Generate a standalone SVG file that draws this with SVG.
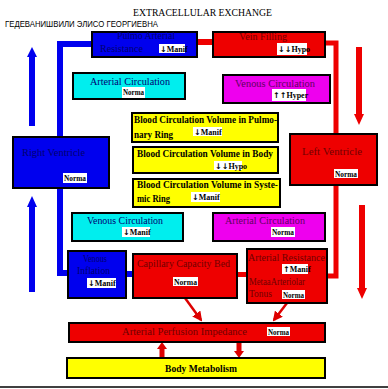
<svg xmlns="http://www.w3.org/2000/svg" width="388" height="389" viewBox="0 0 388 389">
<style>
.box{stroke:#000;stroke-width:2}
.blue{fill:#0000ee}
.red{fill:#ee0000}
.cyan{fill:#00eeee}
.mag{fill:#ee00ee}
.yel{fill:#ffff00}
.t{font-family:"Liberation Serif",serif;font-size:10.5px}
.tb{fill:#000070}
.tr{fill:#700000}
.tm{fill:#600060}
.tk{fill:#000;font-weight:bold}
.lbl{fill:#fff}
.lt{font-family:"Liberation Serif",serif;font-size:8px;font-weight:bold;fill:#000}
.ar{font-family:"DejaVu Sans",sans-serif;font-weight:bold}
.bl{stroke:#0000ee;fill:none}
.rl{stroke:#ee0000;fill:none}
</style>
<defs>
<marker id="ah" viewBox="0 0 10 10" refX="8" refY="5" markerWidth="4" markerHeight="4" orient="auto"><path d="M0,0 L10,5 L0,10 z" fill="#dd0000"/></marker>
</defs>
<rect width="388" height="389" fill="#fff"/>
<text x="133" y="16" font-family="Liberation Serif,serif" font-size="10.5" textLength="139" lengthAdjust="spacingAndGlyphs" fill="#000">EXTRACELLULAR EXCHANGE</text>
<text x="5" y="27" font-family="Liberation Sans,sans-serif" font-size="8.5" textLength="153" lengthAdjust="spacingAndGlyphs" fill="#000">ГЕДЕВАНИШВИЛИ ЭЛИСО ГЕОРГИЕВНА</text>

<g id="connectors">
<path class="bl" stroke-width="6" d="M93 44 H60 V273 H69"/>
<rect x="126" y="271" width="8" height="6" fill="#0000ee"/>
<path class="rl" stroke-width="6" d="M196 42 H214"/>
<path class="rl" stroke-width="5" d="M325 43 H336 V276 H327"/>
<rect x="237" y="272" width="11" height="5" fill="#ee0000"/>
<rect x="29" y="54" width="6" height="72" fill="#0000ee"/>
<path d="M27 57 L32 47 L37 57 z" fill="#0000ee"/>
<rect x="29" y="204" width="6" height="88" fill="#0000ee"/>
<path d="M27 207 L32 196 L37 207 z" fill="#0000ee"/>
<rect x="356" y="47" width="6" height="70" fill="#ee0000"/>
<path d="M354 114 L359 125 L364 114 z" fill="#ee0000"/>
<rect x="359" y="205" width="6" height="86" fill="#ee0000"/>
<path d="M357 288 L362 299 L367 288 z" fill="#ee0000"/>
<line x1="185" y1="298" x2="201" y2="320" stroke="#dd0000" stroke-width="2.5" marker-end="url(#ah)"/>
<line x1="287" y1="303" x2="274" y2="320" stroke="#dd0000" stroke-width="2.5" marker-end="url(#ah)"/>
<rect x="159.5" y="347" width="5" height="11" fill="#dd0000"/>
<path d="M157 349 L162 342 L167 349 z" fill="#dd0000"/>
<rect x="236.5" y="342" width="5" height="11" fill="#dd0000"/>
<path d="M234 351 L239 358 L244 351 z" fill="#dd0000"/>
</g>

<g id="pulmo-arterial-resistance">
<rect class="box blue" x="92" y="32" width="105" height="25"/>
<text class="t tb" x="117" y="39" textLength="58" lengthAdjust="spacingAndGlyphs">Pulmo Arterial</text>
<text class="t tb" x="100" y="52" textLength="43" lengthAdjust="spacingAndGlyphs">Resistance</text>
<rect class="lbl" x="159" y="44" width="26" height="9"/>
<text class="lt" x="160" y="51.5"><tspan class="ar">↓</tspan>Manif</text>
</g>

<g id="vein-filling">
<rect class="box red" x="213" y="32" width="112" height="25"/>
<text class="t tr" x="239" y="40" textLength="48" lengthAdjust="spacingAndGlyphs">Vein Filling</text>
<rect class="lbl" x="277" y="43" width="30" height="12"/>
<text class="lt" x="278" y="52"><tspan class="ar">↓↓</tspan>Hypo</text>
</g>

<g id="arterial-circulation-top">
<rect class="box cyan" x="73" y="73" width="112" height="26"/>
<text class="t tb" x="90" y="85" textLength="80" lengthAdjust="spacingAndGlyphs">Arterial  Circulation</text>
<rect class="lbl" x="122" y="87" width="23" height="11"/>
<text class="lt" x="123" y="95" textLength="21" lengthAdjust="spacingAndGlyphs">Norma</text>
</g>

<g id="venous-circulation-top">
<rect class="box mag" x="223" y="75" width="107" height="28"/>
<text class="t tm" x="235" y="87" textLength="80" lengthAdjust="spacingAndGlyphs">Venous  Circulation</text>
<rect class="lbl" x="272" y="89" width="34" height="12"/>
<text class="lt" x="273" y="98"><tspan class="ar">↑↑</tspan>Hyper</text>
</g>

<g id="bcv-pulmonary">
<rect class="box yel" x="132" y="113" width="146" height="29"/>
<text class="t tk" x="134" y="123" textLength="143" lengthAdjust="spacingAndGlyphs">Blood Circulation Volume in Pulmo-</text>
<text class="t tk" x="134" y="138" textLength="39" lengthAdjust="spacingAndGlyphs">nary Ring</text>
<rect class="lbl" x="193" y="127" width="29" height="9"/>
<text class="lt" x="194" y="134.5"><tspan class="ar">↓</tspan>Manif</text>
</g>

<g id="bcv-body">
<rect class="box yel" x="133" y="147" width="145" height="26"/>
<text class="t tk" x="137" y="157" textLength="136" lengthAdjust="spacingAndGlyphs">Blood Circulation Volume in Body</text>
<rect class="lbl" x="214" y="161" width="28" height="9"/>
<text class="lt" x="215" y="168.5"><tspan class="ar">↓↓</tspan>Hypo</text>
</g>

<g id="bcv-systemic">
<rect class="box yel" x="133" y="179" width="147" height="28"/>
<text class="t tk" x="137" y="188" textLength="141" lengthAdjust="spacingAndGlyphs">Blood Circulation Volume in  Syste-</text>
<text class="t tk" x="137" y="202" textLength="33" lengthAdjust="spacingAndGlyphs">mic Ring</text>
<rect class="lbl" x="191" y="192" width="29" height="10"/>
<text class="lt" x="192" y="200"><tspan class="ar">↓</tspan>Manif</text>
</g>

<g id="right-ventricle">
<rect class="box blue" x="13" y="137" width="96" height="51"/>
<text class="t tb" x="22" y="156" textLength="63" lengthAdjust="spacingAndGlyphs">Right  Ventricle</text>
<rect class="lbl" x="63" y="173" width="24" height="10"/>
<text class="lt" x="64" y="181" textLength="22" lengthAdjust="spacingAndGlyphs">Norma</text>
</g>

<g id="left-ventricle">
<rect class="box red" x="290" y="134" width="87" height="51"/>
<text class="t tr" x="302" y="155" textLength="60" lengthAdjust="spacingAndGlyphs">Left  Ventricle</text>
<rect class="lbl" x="334" y="169" width="24" height="9"/>
<text class="lt" x="335" y="176.5" textLength="22" lengthAdjust="spacingAndGlyphs">Norma</text>
</g>

<g id="venous-circulation-bottom">
<rect class="box cyan" x="72" y="213" width="111" height="28"/>
<text class="t tb" x="87" y="224" textLength="76" lengthAdjust="spacingAndGlyphs">Venous  Circulation</text>
<rect class="lbl" x="122" y="227" width="28" height="10"/>
<text class="lt" x="123" y="235"><tspan class="ar">↓</tspan>Manif</text>
</g>

<g id="arterial-circulation-bottom">
<rect class="box mag" x="213" y="213" width="112" height="28"/>
<text class="t tm" x="225" y="224" textLength="80" lengthAdjust="spacingAndGlyphs">Arterial  Circulation</text>
<rect class="lbl" x="271" y="227" width="24" height="10"/>
<text class="lt" x="272" y="235" textLength="22" lengthAdjust="spacingAndGlyphs">Norma</text>
</g>

<g id="venous-inflation">
<rect class="box blue" x="68" y="251" width="58" height="47"/>
<text class="t tb" x="83" y="262" textLength="24" lengthAdjust="spacingAndGlyphs">Venous</text>
<text class="t tb" x="77" y="274" textLength="33" lengthAdjust="spacingAndGlyphs">Inflation</text>
<rect class="lbl" x="87" y="278" width="29" height="10"/>
<text class="lt" x="88" y="286"><tspan class="ar">↓</tspan>Manif</text>
</g>

<g id="capillary-capacity-bed">
<rect class="box red" x="133" y="254" width="104" height="44"/>
<text class="t tr" x="137" y="267" textLength="93" lengthAdjust="spacingAndGlyphs">Capillary Capacity Bed</text>
<rect class="lbl" x="173" y="277" width="25" height="9"/>
<text class="lt" x="174" y="284.5" textLength="23" lengthAdjust="spacingAndGlyphs">Norma</text>
</g>

<g id="arterial-resistance">
<rect class="box red" x="247" y="249" width="80" height="54"/>
<text class="t tr" x="248" y="261" textLength="77" lengthAdjust="spacingAndGlyphs">Arterial Resistance</text>
<rect class="lbl" x="282" y="264" width="26" height="10"/>
<text class="lt" x="283" y="272"><tspan class="ar">↑</tspan>Manif</text>
<text class="t tr" x="249" y="285" textLength="56" lengthAdjust="spacingAndGlyphs">MetaaArteriolar</text>
<text class="t tr" x="249" y="297" textLength="23" lengthAdjust="spacingAndGlyphs">Tonus</text>
<rect class="lbl" x="282" y="290" width="23" height="9"/>
<text class="lt" x="283" y="297.5" textLength="21" lengthAdjust="spacingAndGlyphs">Norma</text>
</g>

<g id="arterial-perfusion-impedance">
<rect class="box red" x="69" y="323" width="256" height="19"/>
<text class="t tr" x="122" y="335" textLength="125" lengthAdjust="spacingAndGlyphs">Arterial  Perfusion   Impedance</text>
<rect class="lbl" x="267" y="327" width="23" height="9"/>
<text class="lt" x="268" y="334.5" textLength="21" lengthAdjust="spacingAndGlyphs">Norma</text>
</g>

<g id="body-metabolism">
<rect class="box yel" x="67" y="358" width="258" height="20"/>
<text class="t tk" x="165" y="372" textLength="72" lengthAdjust="spacingAndGlyphs">Body Metabolism</text>
</g>

<line x1="0" y1="387" x2="388" y2="387" stroke="#000" stroke-width="1.5"/>
</svg>
